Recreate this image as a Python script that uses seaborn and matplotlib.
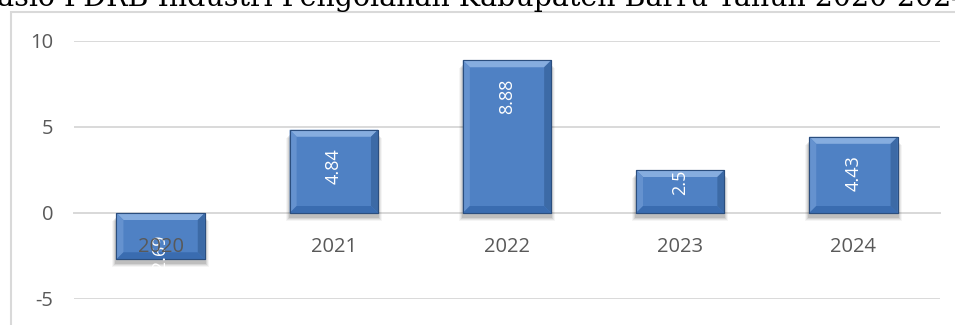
import matplotlib
matplotlib.use("Agg")
import matplotlib.pyplot as plt
from matplotlib.patches import Polygon, Rectangle
from matplotlib.transforms import IdentityTransform
import pandas as pd
import seaborn as sns

# Growth of manufacturing GRDP, Barru Regency
years = ["2020", "2021", "2022", "2023", "2024"]
values = [-2.69, 4.84, 8.88, 2.5, 4.43]
value_labels = ["-2.69", "4.84", "8.88", "2.5", "4.43"]
title = "Rasio PDRB Industri Pengolahan Kabupaten Barru Tahun 2020-2024"
y_ticks = [-5, 0, 5, 10]

df = pd.DataFrame({"Tahun": years, "Nilai": values})

sns.set_theme(style="white")
plt.rcParams["font.family"] = ["Open Sans", "DejaVu Sans"]

DPI = 100
W, H = 955, 325
fig = plt.figure(figsize=(W / DPI, H / DPI), dpi=DPI)
ax = fig.add_axes([74 / W, (H - 299) / H, (940 - 74) / W, (299 - 41) / H])

face = "#4F81C4"
sns.barplot(data=df, x="Tahun", y="Nilai", ax=ax, color=face, width=0.51,
            saturation=1, edgecolor="#2B4E7E", linewidth=0.8, zorder=3)

ax.set_ylim(-5, 10)
ax.set_xlim(-0.5, len(years) - 0.5)
ax.set_yticks(y_ticks)
ax.set_yticklabels([str(t) for t in y_ticks])
ax.set_xlabel("")
ax.set_ylabel("")
ax.grid(axis="y", color="#D9D9D9", linewidth=1.4)
ax.set_axisbelow(True)
ax.xaxis.set_zorder(6)
for side in ["left", "right", "top"]:
    ax.spines[side].set_visible(False)
ax.spines["bottom"].set_position(("data", 0))
ax.spines["bottom"].set_color("#D9D9D9")
ax.spines["bottom"].set_linewidth(1.4)
ax.spines["bottom"].set_zorder(1)
ax.tick_params(axis="x", length=0, pad=17, labelsize=14.5, labelcolor="#595959")
ax.tick_params(axis="y", length=0, pad=15, labelsize=14.5, labelcolor="#595959")

fig.canvas.draw()

# Bevelled bar faces with a soft drop shadow
bev = 7.0
for p in ax.patches[:len(values)]:
    bb = p.get_window_extent()
    x0, x1, y0, y1 = bb.x0, bb.x1, bb.y0, bb.y1
    for k, a in enumerate([0.10, 0.08, 0.06, 0.04]):
        ax.add_patch(Rectangle((x0 - 1 - k, y0 - 5 - k), (x1 - x0) + 2 + 2 * k, (y1 - y0),
                               transform=IdentityTransform(), facecolor="black",
                               alpha=a, edgecolor="none", zorder=2, clip_on=False))
    shapes = [
        ([(x0, y1), (x1, y1), (x1 - bev, y1 - bev), (x0 + bev, y1 - bev)], "#86ADDF"),
        ([(x0, y1), (x0 + bev, y1 - bev), (x0 + bev, y0 + bev), (x0, y0)], "#6592CF"),
        ([(x1, y1), (x1 - bev, y1 - bev), (x1 - bev, y0 + bev), (x1, y0)], "#3C6AA6"),
        ([(x0, y0), (x1, y0), (x1 - bev, y0 + bev), (x0 + bev, y0 + bev)], "#3A6CB0"),
    ]
    for pts, col in shapes:
        ax.add_patch(Polygon(pts, closed=True, transform=IdentityTransform(),
                             facecolor=col, edgecolor="none", zorder=4))
    ax.add_patch(Rectangle((x0, y0), x1 - x0, y1 - y0, transform=IdentityTransform(),
                           facecolor="none", edgecolor="#2B4E7E", linewidth=0.8, zorder=4.5))

# Rotated value labels near the bar ends
for i, (v, lab) in enumerate(zip(values, value_labels)):
    yend = ax.transData.transform((i, v))[1]
    yzero = ax.transData.transform((i, 0))[1]
    h = abs(yend - yzero)
    if v >= 0:
        off = -(36 if h >= 70 else 0.28 * h)
    else:
        off = 4
    ax.annotate(lab, xy=(i, v), xytext=(0, off * 72 / DPI), textcoords="offset points",
                rotation=90, ha="center", va="center", color="white",
                fontsize=13, zorder=5, annotation_clip=False)

# Chart frame
fig.patches.append(Rectangle((11 / W, -0.1), 1.2, (H - 12) / H + 0.1,
                             transform=fig.transFigure, facecolor="none",
                             edgecolor="#D9D9D9", linewidth=1.5, zorder=0))

# Title, sized to its intended span and partly running past the canvas
t = fig.text(472 / W, (H - 6) / H, title, ha="center", va="baseline",
             fontsize=20, family=["DejaVu Serif"], color="black")
fig.canvas.draw()
tw = t.get_window_extent().width
t.set_fontsize(20 * 995 / tw)

fig.savefig("out.png", dpi=DPI, facecolor="white")
